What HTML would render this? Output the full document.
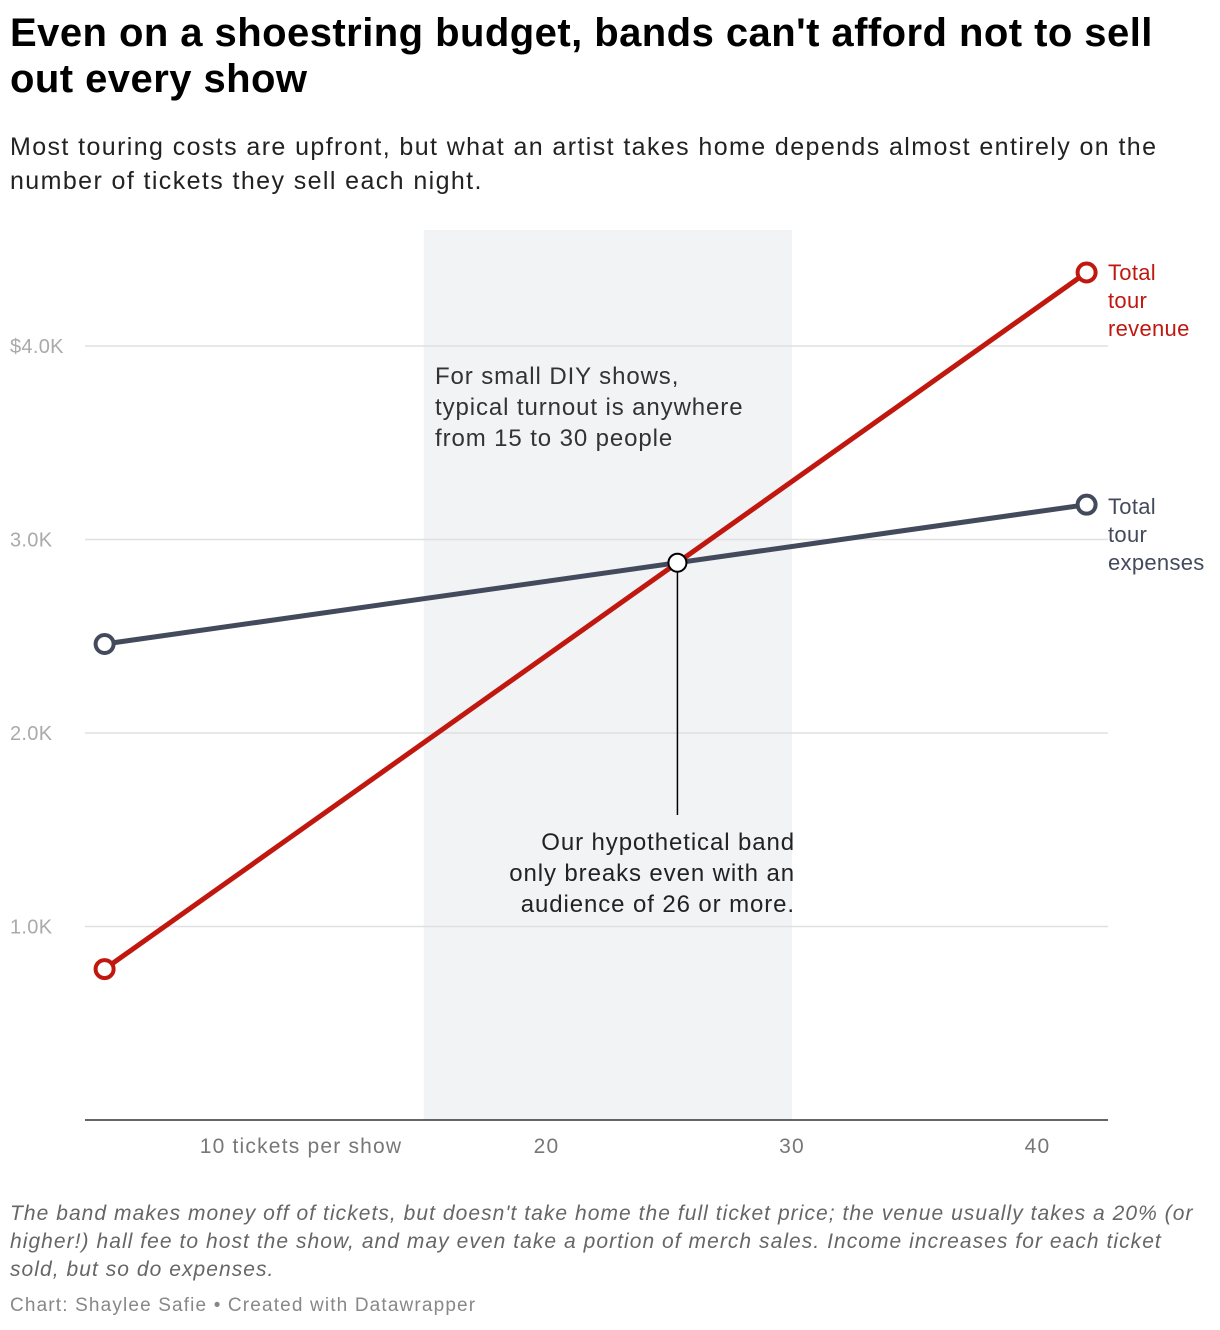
<!DOCTYPE html>
<html><head><meta charset="utf-8"><style>
body{margin:0;width:1220px;height:1330px;background:#fff;font-family:"Liberation Sans",Arial,sans-serif;overflow:hidden}
h1{position:absolute;left:10px;top:10px;margin:0;font-size:40px;line-height:46px;font-weight:bold;color:#000;white-space:nowrap;letter-spacing:0.45px}
.sub{position:absolute;left:10px;top:130px;font-size:25px;line-height:34px;color:#222;white-space:nowrap;letter-spacing:1.4px}
.notes{position:absolute;left:10px;top:1200px;font-size:21px;line-height:28px;color:#666;font-style:italic;white-space:nowrap;letter-spacing:1.05px}
.credit{position:absolute;left:10px;top:1295px;font-size:19px;color:#888;letter-spacing:1.15px}
svg{position:absolute;left:0;top:0}
</style></head><body>
<h1>Even on a shoestring budget, bands can't afford not to sell<br>out every show</h1>
<div class="sub">Most touring costs are upfront, but what an artist takes home depends almost entirely on the<br>number of tickets they sell each night.</div>
<svg id="chart" width="1220" height="1330"></svg>
<div class="notes">The band makes money off of tickets, but doesn't take home the full ticket price; the venue usually takes a 20% (or<br>higher!) hall fee to host the show, and may even take a portion of merch sales. Income increases for each ticket<br>sold, but so do expenses.</div>
<div class="credit">Chart: Shaylee Safie • Created with Datawrapper</div>
<script>
const tickets=[2,42];
const revenue=[780,4380];
const expenses=[2460,3180];
const yTicks=[1000,2000,3000,4000];
const yTickLabels=["1.0K","2.0K","3.0K","$4.0K"];
const xTicks=[10,20,30,40];
const xTickLabels=["10 tickets per show","20","30","40"];
const band=[15,30];

const NS="http://www.w3.org/2000/svg";
const svg=document.getElementById('chart');
const X=v=>301+(v-10)*24.55;
const Y=v=>1120-v*0.1935;
function el(t,a,p){const e=document.createElementNS(NS,t);for(const k in a)e.setAttribute(k,a[k]);(p||svg).appendChild(e);return e;}

const sh=el('rect',{x:X(band[0]),y:230,width:X(band[1])-X(band[0]),height:890,fill:'#f2f3f5'});



yTicks.forEach((v,i)=>{
  const g=el('line',{x1:85,x2:1108,y1:Y(v),y2:Y(v),stroke:'#e0e0e0','stroke-width':1.5});
  
  
  const t=el('text',{x:10,y:Y(v)+7,'font-size':20,fill:'#aaa','letter-spacing':0.3});
  t.textContent=yTickLabels[i];
  
  
});
const ax=el('line',{x1:85,x2:1108,y1:1120,y2:1120,stroke:'#333','stroke-width':1.5});


xTicks.forEach((v,i)=>{
  const t=el('text',{x:X(v),y:1153,'font-size':21,fill:'#777','text-anchor':'middle','letter-spacing':1.2});
  t.textContent=xTickLabels[i];
  
  
});

function series(vals,color,name){
  const l=el('line',{x1:X(tickets[0]),y1:Y(vals[0]),x2:X(tickets[1]),y2:Y(vals[1]),stroke:color,'stroke-width':5});
  
  
  vals.forEach((v,i)=>{
    const c=el('circle',{cx:X(tickets[i]),cy:Y(v),r:9,fill:'#fff',stroke:color,'stroke-width':4});
    
    
  });
}
series(expenses,'#434a5c','expenses');
series(revenue,'#c0180f','revenue');

const sr=(revenue[1]-revenue[0])/(tickets[1]-tickets[0]);
const se=(expenses[1]-expenses[0])/(tickets[1]-tickets[0]);
const bx=tickets[0]+(expenses[0]-revenue[0])/(sr-se);
const by=revenue[0]+sr*(bx-tickets[0]);
const bl=el('line',{x1:X(bx),y1:Y(by),x2:X(bx),y2:815,stroke:'#000','stroke-width':1.5});


const bc=el('circle',{cx:X(bx),cy:Y(by),r:9,fill:'#fff',stroke:'#000','stroke-width':2});



function multi(lines,x,y,anchor,color,size,lh,ls,name){
  const t=el('text',{x:x,y:y,'font-size':size,fill:color,'text-anchor':anchor,'letter-spacing':ls});
  lines.forEach((s,i)=>{const ts=el('tspan',{x:x,dy:i?lh:0},t);ts.textContent=s;});
  
  
}
multi(["Total","tour","revenue"],1108,280,'start','#c0180f',22,28,0.3,'revenue-label');
multi(["Total","tour","expenses"],1108,514,'start','#434a5c',22,28,0.3,'expenses-label');
multi(["For small DIY shows,","typical turnout is anywhere","from 15 to 30 people"],435,384,'start','#333',24,31,0.9,'band-annotation');
multi(["Our hypothetical band","only breaks even with an","audience of 26 or more."],795,850,'end','#222',24,31,0.9,'breakeven-annotation');
</script>
</body></html>
